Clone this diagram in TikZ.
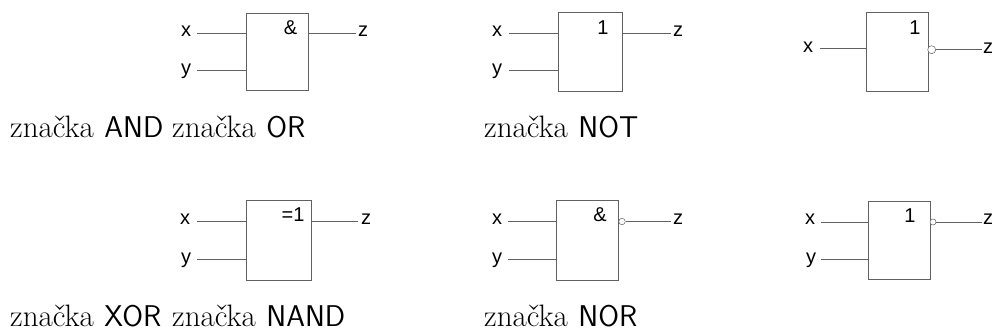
\documentclass[tikz,border=0pt]{standalone}
\usepackage{fontspec}
\newfontfamily\labelfont{Liberation Sans}
\newcommand{\gatecap}[1]{značka\hspace{10.5pt}{\sffamily\fontsize{30}{30}\selectfont #1}}
\tikzset{
  wire/.style={draw=black!62,line width=0.75pt},
  gatebox/.style={draw=black!62,line width=0.75pt,fill=white,inner sep=0pt,rectangle},
  bubble/.style={circle,draw=black!62,line width=0.5pt,fill=white,inner sep=0pt,minimum size=6.5pt},
  sig/.style={inner sep=0pt,font=\labelfont\fontsize{20}{20}\selectfont},
  captext/.style={inner sep=0pt,anchor=base west,text=black,font=\fontsize{31}{31}\selectfont}
}
\begin{document}
\begin{tikzpicture}[x=1pt,y=-1pt]
\useasboundingbox (0,0) rectangle (999,333);
% AND
\node[gatebox,minimum width=62.5pt,minimum height=77pt] (g1) at (277.25,51.5) {};
\node[sig] at (290.5,27.5) (g1t) {\&};
\node[sig] (g1x) at (186,31.5) {x};
\node[sig] (g1y) at (186,71.5) {y};
\node[sig] (g1z) at (363,31.5) {z};
\coordinate (g1a) at (197,33.5);
\coordinate (g1b) at (197,70.5);
\coordinate (g1c) at (356,33.5);
\draw[wire] (g1a) -- (g1a -| g1.west);
\draw[wire] (g1b) -- (g1b -| g1.west);
\draw[wire] (g1c -| g1.east) -- (g1c);
% OR
\node[gatebox,minimum width=64pt,minimum height=78.5pt] (g2) at (590.5,51.75) {};
\node[sig] (g2t) at (603,28) {1};
\node[sig] (g2x) at (497,31.5) {x};
\node[sig] (g2y) at (497,71.5) {y};
\node[sig] (g2z) at (678,31.5) {z};
\coordinate (g2a) at (509,33.5);
\coordinate (g2b) at (509,70.5);
\coordinate (g2c) at (671,33.5);
\draw[wire] (g2a) -- (g2a -| g2.west);
\draw[wire] (g2b) -- (g2b -| g2.west);
\draw[wire] (g2c -| g2.east) -- (g2c);
% NOT
\node[gatebox,minimum width=62pt,minimum height=78.5pt] (g3) at (897,51.75) {};
\node[sig] (g3t) at (915,28) {1};
\node[sig] (g3x) at (808,47) {x};
\node[sig] (g3z) at (988,48) {z};
\node[bubble,minimum size=8pt] (g3n) at (931.7,49.7) {};
\coordinate (g3a) at (820,48);
\coordinate (g3c) at (982,49.7);
\draw[wire] (g3a) -- (g3a -| g3.west);
\draw[wire] (g3n) -- (g3c);
% XOR
\node[gatebox,minimum width=64.5pt,minimum height=79.5pt] (g4) at (278.75,240.25) {};
\node[sig] (g4t) at (293,214.5) {=1};
\node[sig] (g4x) at (185,219.5) {x};
\node[sig] (g4y) at (186,260.5) {y};
\node[sig] (g4z) at (366,219.5) {z};
\coordinate (g4a) at (197,221.5);
\coordinate (g4b) at (197,259.5);
\coordinate (g4c) at (358,221.5);
\draw[wire] (g4a) -- (g4a -| g4.west);
\draw[wire] (g4b) -- (g4b -| g4.west);
\draw[wire] (g4c -| g4.east) -- (g4c);
% NAND
\node[gatebox,minimum width=62.5pt,minimum height=80.5pt] (g5) at (587.25,240.25) {};
\node[sig] (g5t) at (600,215) {\&};
\node[sig] (g5x) at (497,219.5) {x};
\node[sig] (g5y) at (497,260.5) {y};
\node[sig] (g5z) at (678,219.5) {z};
\node[bubble] (g5n) at (622,221.5) {};
\coordinate (g5a) at (507.5,221.5);
\coordinate (g5b) at (507.5,259.5);
\coordinate (g5c) at (671,221.5);
\draw[wire] (g5a) -- (g5a -| g5.west);
\draw[wire] (g5b) -- (g5b -| g5.west);
\draw[wire] (g5n) -- (g5c);
% NOR
\node[gatebox,minimum width=62pt,minimum height=77.5pt] (g6) at (899.5,240.25) {};
\node[sig] (g6t) at (910,215.5) {1};
\node[sig] (g6x) at (810,219.5) {x};
\node[sig] (g6y) at (811,260) {y};
\node[sig] (g6z) at (988,219.5) {z};
\node[bubble,minimum size=6pt] (g6n) at (933,222) {};
\coordinate (g6a) at (821,222);
\coordinate (g6b) at (821,259);
\coordinate (g6c) at (982,222);
\draw[wire] (g6a) -- (g6a -| g6.west);
\draw[wire] (g6b) -- (g6b -| g6.west);
\draw[wire] (g6n) -- (g6c);
% captions
\node[captext] (c1) at (10,137) {\gatecap{AND}};
\node[captext] (c2) at (172,137) {\gatecap{OR}};
\node[captext] (c3) at (484,137) {\gatecap{NOT}};
\node[captext] (c4) at (10,326) {\gatecap{XOR}};
\node[captext] (c5) at (172,326) {\gatecap{NAND}};
\node[captext] (c6) at (484,326) {\gatecap{NOR}};
\end{tikzpicture}
\end{document}
